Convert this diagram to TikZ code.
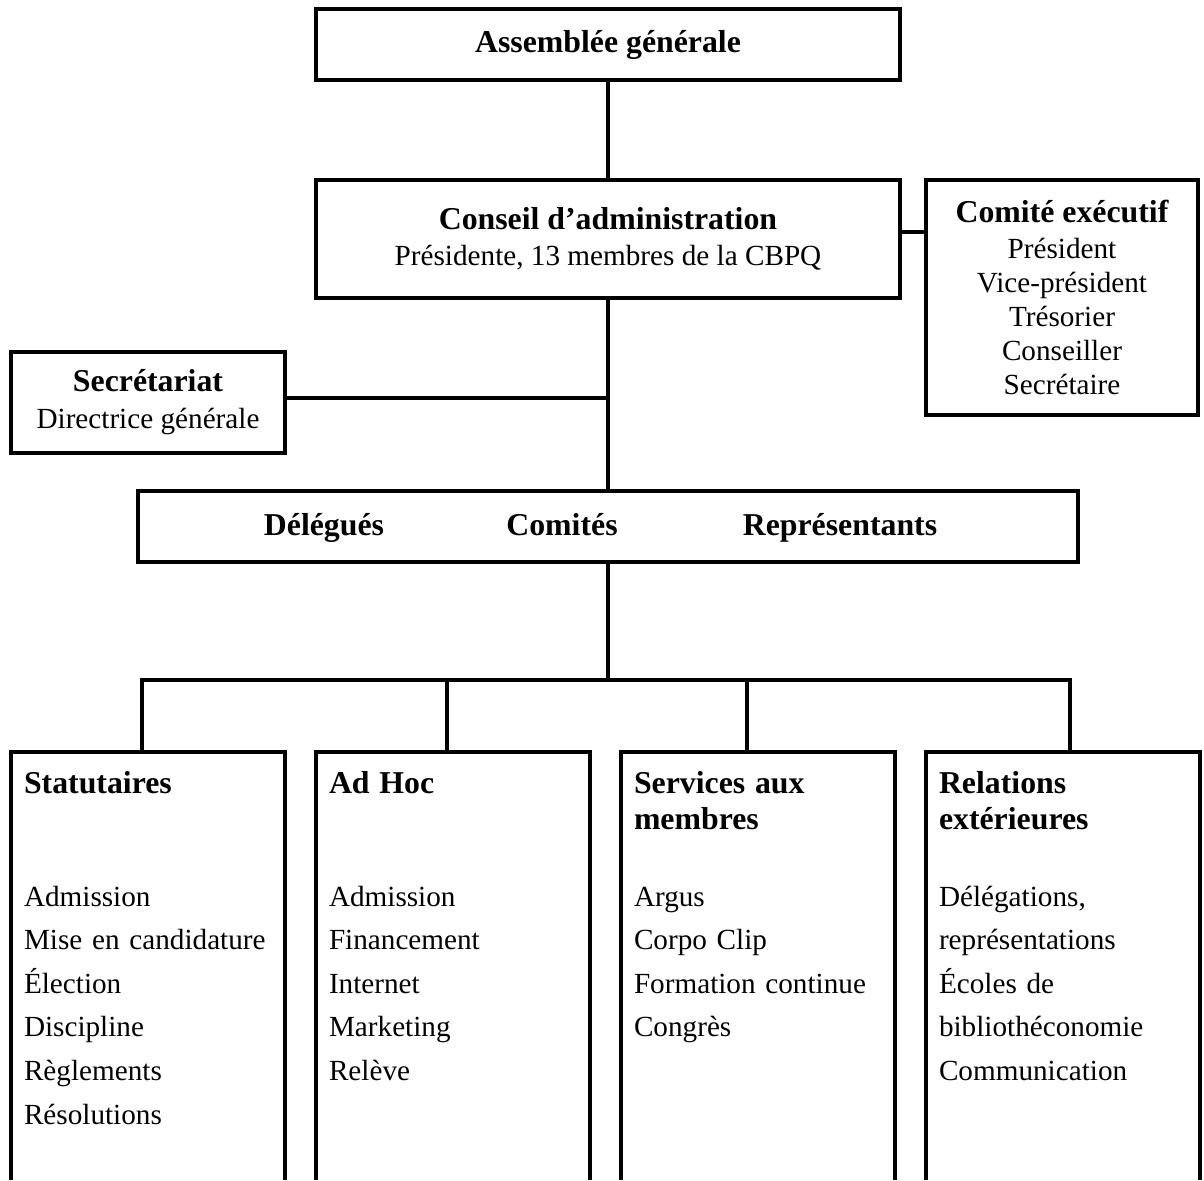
\documentclass[tikz,border=0pt]{standalone}
\usepackage{fontspec}
\setmainfont{Liberation Serif}
\newcommand{\headfont}{\fontsize{31.8}{36}\selectfont\bfseries}
\newcommand{\itemfont}{\fontsize{29.2}{34}\selectfont}
\newcommand{\colfont}{\fontsize{29.2}{43.6}\selectfont}
\tikzset{
  box/.style={draw, align=center, inner sep=0pt, font=\itemfont},
  colbox/.style={anchor=north west, align=left, text width=248pt, inner xsep=13pt, inner ysep=19pt, outer sep=0pt, font=\colfont},
  label/.style={anchor=base, font=\headfont}
}
\begin{document}
\begin{tikzpicture}[x=1pt, y=-1pt, line width=4.5pt]
  \useasboundingbox (0,0) rectangle (1204,1180);

  % assembly and board
  \node[box, minimum width=584pt, minimum height=71pt] (ag) at (608,44.5) {\headfont Assemblée générale};
  \node[box, minimum width=584pt, minimum height=118pt] (ca) at (608,239) {{\headfont Conseil d’administration}\\[2pt] Présidente, 13 membres de la CBPQ};
  \node[box, minimum width=272pt, minimum height=235pt] (ce) at (1062,297.5) {{\headfont Comité exécutif}\\[2pt] Président\\ Vice-président\\ Trésorier\\ Conseiller\\ Secrétaire};
  \node[box, minimum width=274pt, minimum height=101pt] (sec) at (148,402.5) {{\headfont Secrétariat}\\[3pt] Directrice générale};

  % delegates, committees, representatives
  \node[box, minimum width=940pt, minimum height=71pt] (dcr) at (608,526.5) {};
  \node[label] (deleg) at (324,535) {Délégués};
  \node[label] (comites) at (562,535) {Comités};
  \node[label] (repr) at (840,535) {Représentants};

  % committee columns, open at the bottom
  \node[colbox] (stat) at (11,752) {{\headfont Statutaires}\\[69.4pt] Admission\\ Mise en candidature\\ Élection\\ Discipline\\ Règlements\\ Résolutions};
  \node[colbox] (adhoc) at (316,752) {{\headfont Ad Hoc}\\[69.4pt] Admission\\ Financement\\ Internet\\ Marketing\\ Relève};
  \node[colbox] (serv) at (621,752) {{\headfont Services aux}\\[-7.6pt] {\headfont membres}\\[33.4pt] Argus\\ Corpo Clip\\ Formation continue\\ Congrès};
  \node[colbox] (rel) at (926,752) {{\headfont Relations}\\[-7.6pt] {\headfont extérieures}\\[33.4pt] Délégations,\\ représentations\\ Écoles de\\ bibliothéconomie\\ Communication};
  \draw (stat.north west |- 0,1180) |- (stat.north east) -- (stat.north east |- 0,1180);
  \draw (adhoc.north west |- 0,1180) |- (adhoc.north east) -- (adhoc.north east |- 0,1180);
  \draw (serv.north west |- 0,1180) |- (serv.north east) -- (serv.north east |- 0,1180);
  \draw (rel.north west |- 0,1180) |- (rel.north east) -- (rel.north east |- 0,1180);

  % connectors
  \draw (ag.south) -- (ca.north);
  \draw (ca.east |- 0,232) -- (ce.west |- 0,232);
  \draw (ca.south) -- (dcr.north);
  \draw (sec.east |- 0,398) -- (ca.south |- 0,398);

  % bus to the columns
  \coordinate (b1) at (142,680);
  \coordinate (b2) at (447,680);
  \coordinate (b3) at (747,680);
  \coordinate (b4) at (1070,680);
  \draw (dcr.south) -- (dcr.south |- b1);
  \draw (b1 |- stat.north) -- (b1) -- (b4) -- (b4 |- rel.north);
  \draw (b2) -- (b2 |- adhoc.north);
  \draw (b3) -- (b3 |- serv.north);
\end{tikzpicture}
\end{document}
